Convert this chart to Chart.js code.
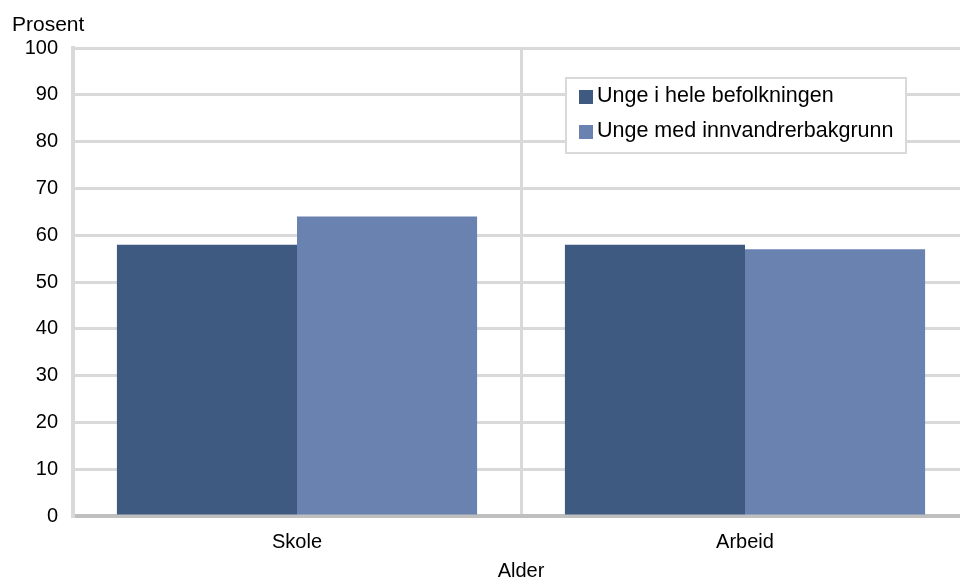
<!doctype html>
<html lang="no">
  <head>
    <meta charset="utf-8">
    <title>Skole og arbeid</title>
    <style>
      * {
        margin: 0;
        padding: 0;
      }
      body {
        background: #fff;
        overflow: hidden;
      }
      .chartBox {
        width: 980px;
        height: 581px;
      }
    </style>
  </head>
  <body>
    <div class="chartBox">
      <canvas id="myChart"></canvas>
    </div>
    <script src="https://cdn.jsdelivr.net/npm/chart.js/dist/chart.umd.min.js"></script>
    <script>
    // data
    const categories = ['Skole', 'Arbeid'];
    const helePop = [58, 58];
    const innvandrer = [64, 57];
    const seriesNames = ['Unge i hele befolkningen', 'Unge med innvandrerbakgrunn'];
    const yTicks = [0, 10, 20, 30, 40, 50, 60, 70, 80, 90, 100];

    const FONT = 'Liberation Sans, Arial, sans-serif';
    const darkBlue = '#3f5a80';
    const lightBlue = '#6a82b0';
    const gridGrey = '#d9d9d9';

    // legend in a box, top right of the plot
    const boxLegend = {
      id: 'boxLegend',
      afterDraw(chart) {
        const ctx = chart.ctx;
        const x = 566, y = 78, w = 340, h = 75;
        ctx.save();
        ctx.fillStyle = '#fff';
        ctx.fillRect(x, y, w, h);
        ctx.strokeStyle = gridGrey;
        ctx.lineWidth = 2;
        ctx.strokeRect(x, y, w, h);
        ctx.font = '21.5px ' + FONT;
        ctx.textBaseline = 'middle';
        chart.data.datasets.forEach((ds, i) => {
          const cy = y + 18 + i * 35;
          ctx.fillStyle = ds.backgroundColor;
          ctx.fillRect(x + 13, cy - 6, 14, 14);
          ctx.fillStyle = '#000';
          ctx.fillText(ds.label, x + 31, cy);
        });
        ctx.restore();
      }
    };

    const data = {
      labels: categories,
      datasets: [{
        label: seriesNames[0],
        data: helePop,
        backgroundColor: darkBlue,
        categoryPercentage: 0.804,
        barPercentage: 1
      }, {
        label: seriesNames[1],
        data: innvandrer,
        backgroundColor: lightBlue,
        categoryPercentage: 0.804,
        barPercentage: 1
      }]
    };

    const config = {
      type: 'bar',
      data,
      options: {
        responsive: true,
        maintainAspectRatio: false,
        animation: false,
        layout: {
          padding: { left: 12, right: 11, top: 0, bottom: 0 }
        },
        plugins: {
          legend: { display: false },
          tooltip: { enabled: false },
          title: {
            display: true,
            text: 'Prosent',
            align: 'start',
            color: '#000',
            font: { family: FONT, size: 21, weight: 'normal', lineHeight: 1.2 },
            padding: { top: 13, bottom: 10 }
          }
        },
        scales: {
          x: {
            grid: {
              color: gridGrey,
              lineWidth: 3,
              drawTicks: false,
              offset: true
            },
            border: { color: '#bfbfbf', width: 4 },
            ticks: {
              color: '#000',
              padding: 14,
              font: { family: FONT, size: 20 }
            },
            title: {
              display: true,
              text: 'Alder',
              color: '#000',
              font: { family: FONT, size: 20, lineHeight: 1 },
              padding: 0
            },
            afterFit(scale) {
              scale.height = 65;
            }
          },
          y: {
            min: 0,
            max: 100,
            afterBuildTicks(scale) {
              scale.ticks = yTicks.map(v => ({ value: v }));
            },
            grid: {
              color: gridGrey,
              lineWidth: 3,
              drawTicks: false
            },
            border: { color: gridGrey, width: 4 },
            ticks: {
              color: '#000',
              padding: 15,
              font: { family: FONT, size: 20 }
            },
            afterFit(scale) {
              scale.width = 61;
            }
          }
        }
      },
      plugins: [boxLegend]
    };

    const myChart = new Chart(document.getElementById('myChart'), config);
    </script>
  </body>
</html>
